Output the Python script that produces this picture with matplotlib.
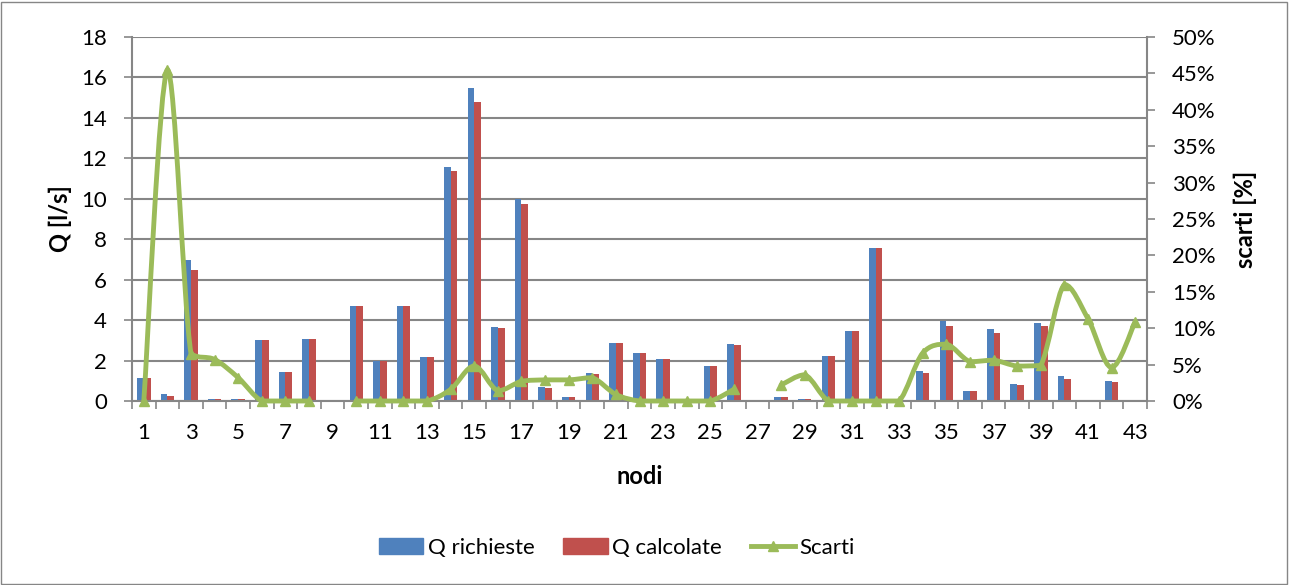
import numpy as np
import matplotlib.pyplot as plt
from matplotlib.path import Path
from matplotlib.patches import PathPatch, Rectangle
from matplotlib.lines import Line2D
from matplotlib.ticker import PercentFormatter, MultipleLocator

plt.rcParams['font.family'] = ['Lato', 'DejaVu Sans']

nodi = list(range(1, 44))
q_richieste = [1.16, 0.33, 6.95, 0.08, 0.08, 3.01, 1.44, 3.08, 0, 4.7,
               2.0, 4.7, 2.19, 11.56, 15.5, 3.64, 10.0, 0.7, 0.2, 1.37,
               2.88, 2.37, 2.1, 0, 1.74, 2.81, 0, 0.2, 0.08, 2.23,
               3.44, 7.57, 0.05, 1.46, 3.97, 0.5, 3.54, 0.86, 3.87, 1.24,
               0.04, 0.99, 0.04]
q_calcolate = [1.16, 0.23, 6.5, 0.08, 0.08, 3.01, 1.44, 3.08, 0, 4.7,
               2.0, 4.7, 2.19, 11.36, 14.8, 3.59, 9.75, 0.66, 0.19, 1.32,
               2.85, 2.37, 2.1, 0, 1.74, 2.76, 0, 0.2, 0.08, 2.23,
               3.44, 7.57, 0.05, 1.36, 3.71, 0.48, 3.34, 0.81, 3.71, 1.08,
               0.04, 0.94, 0.04]
# scarti in %, None = nodo senza valore
scarti = [0, 45.5, 6.5, 5.7, 3.2, 0, 0, 0, None, 0,
          0, 0, 0, 1.6, 4.8, 1.4, 2.7, 2.9, 2.9, 3.2,
          0.9, 0, 0, 0, 0, 1.6, None, 2.2, 3.6, 0,
          0, 0, 0, 6.6, 7.8, 5.4, 5.6, 4.8, 4.9, 16.0,
          11.3, 4.6, 10.9]

BLUE = '#4F81BD'
RED = '#C0504D'
GREEN = '#9BBB59'
GREY = '#868686'


def smooth_path(xs, ys):
    # bezier tipo "linea smussata" di Excel, senza grandi sovraelongazioni
    verts = [(xs[0], ys[0])]
    codes = [Path.MOVETO]
    n = len(xs)
    for i in range(n - 1):
        xa, ya = (xs[i-1], ys[i-1]) if i > 0 else (xs[i], ys[i])
        xb, yb = (xs[i+2], ys[i+2]) if i + 2 < n else (xs[i+1], ys[i+1])
        lo, hi = min(ys[i], ys[i+1]), max(ys[i], ys[i+1])
        c1 = (xs[i] + (xs[i+1] - xa) / 6,
              np.clip(ys[i] + (ys[i+1] - ya) / 6, lo, hi))
        c2 = (xs[i+1] - (xb - xs[i]) / 6,
              np.clip(ys[i+1] - (yb - ys[i]) / 6, lo, hi))
        verts += [c1, c2, (xs[i+1], ys[i+1])]
        codes += [Path.CURVE4] * 3
    return Path(verts, codes)


fig = plt.figure(figsize=(12.89, 5.85), dpi=100)
ax = fig.add_axes([132/1289, 1-401/585, (1147-132)/1289, (401-37)/585])

x = np.array(nodi)
w = 0.285
ax.bar(x - w/2, q_richieste, w, color=BLUE, zorder=2)
ax.bar(x + w/2, q_calcolate, w, color=RED, zorder=2)

ax.set_xlim(0.5, 43.5)
ax.set_ylim(0, 18)
ax.yaxis.set_major_locator(MultipleLocator(2))
ax.grid(axis='y', color=GREY, lw=1.5, zorder=0)
ax.set_axisbelow(True)
ax.set_xticks(nodi)
ax.set_xticklabels([str(n) if n % 2 == 1 else '' for n in nodi])
ax.set_xticks(np.arange(0.5, 44, 1), minor=True)
ax.tick_params(axis='x', which='major', length=0, pad=16, labelsize=16)
ax.tick_params(axis='x', which='minor', length=6, width=1.2, color=GREY)
ax.tick_params(axis='y', length=6, width=1.2, color=GREY, pad=12, labelsize=16)
for s in ['top', 'right']:
    ax.spines[s].set_visible(False)
for s in ['left', 'bottom']:
    ax.spines[s].set_color(GREY)
    ax.spines[s].set_linewidth(1.5)

ax2 = ax.twinx()
ax2.set_ylim(0, 0.5)
ax2.yaxis.set_major_locator(MultipleLocator(0.05))
ax2.yaxis.set_major_formatter(PercentFormatter(1.0, decimals=0))
ax2.tick_params(axis='y', length=6, width=1.2, color=GREY, pad=12, labelsize=16)
for s in ['top', 'left', 'bottom']:
    ax2.spines[s].set_visible(False)
ax2.spines['right'].set_color(GREY)
ax2.spines['right'].set_linewidth(1.5)

# linea degli scarti, spezzata dove manca il valore
seg_x, seg_y = [], []
for n, v in zip(nodi + [None], scarti + [None]):
    if v is None:
        if len(seg_x) > 1:
            ax2.add_patch(PathPatch(smooth_path(seg_x, seg_y), fill=False,
                                    edgecolor=GREEN, lw=3.5, capstyle='round',
                                    joinstyle='round', zorder=3, clip_on=False))
        seg_x, seg_y = [], []
    else:
        seg_x.append(n)
        seg_y.append(v / 100)
sx = [n for n, v in zip(nodi, scarti) if v is not None]
sy = [v / 100 for v in scarti if v is not None]
ax2.plot(sx, sy, ls='none', marker='^', ms=7, color=GREEN, zorder=4, clip_on=False)

fig.text(60/1289, 1-219/585, 'Q [l/s]', rotation=90, ha='center', va='center',
         fontsize=17, fontweight='bold')
fig.text(1245/1289, 1-219/585, 'scarti [%]', rotation=90, ha='center', va='center',
         fontsize=17, fontweight='bold')
fig.text(640/1289, 1-477/585, 'nodi', ha='center', va='center',
         fontsize=17, fontweight='bold')

handles = [Rectangle((0, 0), 1, 1, color=BLUE),
           Rectangle((0, 0), 1, 1, color=RED),
           Line2D([], [], color=GREEN, lw=3.5, marker='^', ms=7)]
fig.legend(handles, ['Q richieste', 'Q calcolate', 'Scarti'], loc='center',
           bbox_to_anchor=(617/1289, 1-548/585), ncol=3, frameon=False,
           fontsize=16, handlelength=2.0, handleheight=0.7, columnspacing=1.3,
           handletextpad=0.2)

fig.patches.append(Rectangle((1/1289, 1/585), 1286/1289, 582/585, fill=False,
                             edgecolor=GREY, lw=1, transform=fig.transFigure))

fig.savefig('out.png', dpi=100)
